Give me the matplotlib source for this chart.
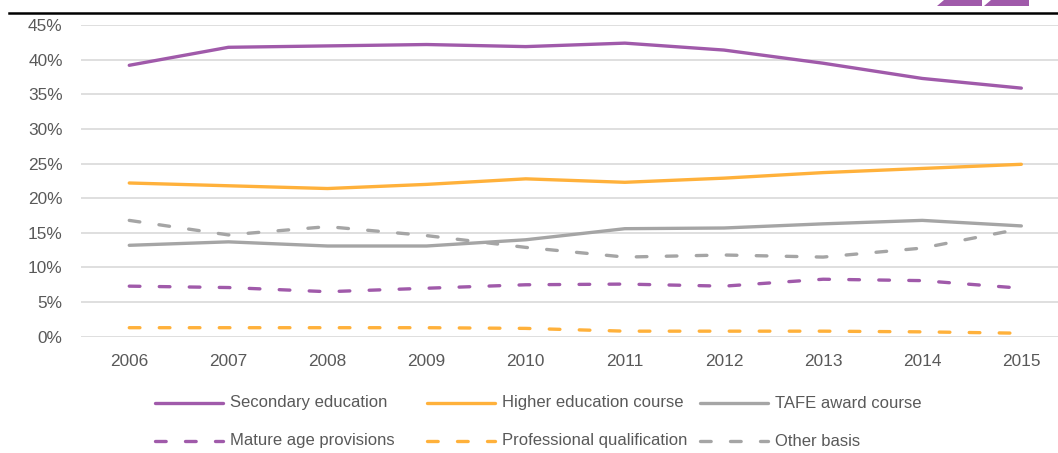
import matplotlib
matplotlib.use("Agg")
import matplotlib.pyplot as plt
from matplotlib.lines import Line2D
from matplotlib.patches import Polygon
from matplotlib.ticker import FuncFormatter, MultipleLocator

# -----------------------------
# DATA (share of commencing students by basis of admission, %)
# -----------------------------
years = [2006, 2007, 2008, 2009, 2010, 2011, 2012, 2013, 2014, 2015]

secondary = [39.2, 41.8, 42.0, 42.2, 41.9, 42.4, 41.4, 39.5, 37.3, 35.9]
higher_ed = [22.2, 21.8, 21.4, 22.0, 22.8, 22.3, 22.9, 23.7, 24.3, 24.9]
tafe = [13.2, 13.7, 13.1, 13.1, 14.0, 15.6, 15.7, 16.3, 16.8, 16.0]
mature_age = [7.3, 7.1, 6.5, 7.0, 7.5, 7.6, 7.3, 8.3, 8.1, 7.0]
professional = [1.3, 1.3, 1.3, 1.3, 1.2, 0.8, 0.8, 0.8, 0.7, 0.5]
other_basis = [16.8, 14.7, 15.9, 14.6, 12.9, 11.5, 11.8, 11.5, 12.8, 15.6]

labels = [
    "Secondary education", "Higher education course", "TAFE award course",
    "Mature age provisions", "Professional qualification", "Other basis",
]

PURPLE = "#A05AAA"
ORANGE = "#FFB13B"
GREY = "#A5A5A5"
TEXT = "#595959"
GRID = "#D9D9D9"

W, H = 1058, 453
LW = 2.4
DASH = (3.2, 5.8)
FS = 12.4
LEG_FS = 12

plt.rcParams["font.family"] = ["Liberation Sans", "DejaVu Sans"]


def fx(px: float) -> float:
    return px / W


def fy(py: float) -> float:
    return 1 - py / H


series = [
    (secondary, PURPLE, "-"),
    (higher_ed, ORANGE, "-"),
    (tafe, GREY, "-"),
    (mature_age, PURPLE, "--"),
    (professional, ORANGE, "--"),
    (other_basis, GREY, "--"),
]

fig = plt.figure(figsize=(W / 100, H / 100), dpi=100)
ax = fig.add_axes([fx(80.7), fy(336.7), 1 - fx(80.7), (336.7 - 25) / H])

for vals, color, style in series:
    kw = dict(color=color, lw=LW, solid_capstyle="round")
    if style == "--":
        kw.update(dashes=DASH, dash_capstyle="round")
    ax.plot(years, [v / 100 for v in vals], **kw, zorder=3)

ax.set_ylim(0, 0.4502)
ax.set_xlim(2005.51, 2015.37)
ax.yaxis.set_major_locator(MultipleLocator(0.05))
ax.yaxis.set_major_formatter(FuncFormatter(lambda v, _: f"{v * 100:.0f}%"))
ax.set_xticks(years)
ax.grid(axis="y", color=GRID, lw=1.2, zorder=0)
ax.set_axisbelow(True)
for s in ax.spines.values():
    s.set_visible(False)
ax.tick_params(axis="both", length=0, labelsize=FS, colors=TEXT)
ax.tick_params(axis="y", pad=13)
ax.tick_params(axis="x", pad=12.5)

# legend, laid out like the Excel one (equal column widths)
col_x = [155, 427, 700]
row_y = [403, 441]
for i, (lab, (vals, color, style)) in enumerate(zip(labels, series)):
    r, c = divmod(i, 3)
    x0 = col_x[c]
    y0 = row_y[r]
    kw = dict(color=color, lw=LW, solid_capstyle="round")
    if style == "--":
        kw.update(dashes=DASH, dash_capstyle="round")
    fig.add_artist(Line2D([fx(x0), fx(x0 + 68)], [fy(y0), fy(y0)],
                          transform=fig.transFigure, **kw))
    fig.text(fx(x0 + 75), fy(y0), lab, fontsize=LEG_FS, color=TEXT,
             ha="left", va="center")

# header rule and corner decoration
fig.add_artist(Line2D([fx(9), 1], [fy(12.7), fy(12.7)], color="black", lw=1.8,
                      transform=fig.transFigure))
for x0 in (937, 984):
    fig.add_artist(Polygon(
        [(fx(x0), fy(6)), (fx(x0 + 45), fy(6)), (fx(x0 + 45), 1), (fx(x0 + 7), 1)],
        closed=True, color=PURPLE, transform=fig.transFigure, lw=0))

fig.savefig("out.png", dpi=100)
